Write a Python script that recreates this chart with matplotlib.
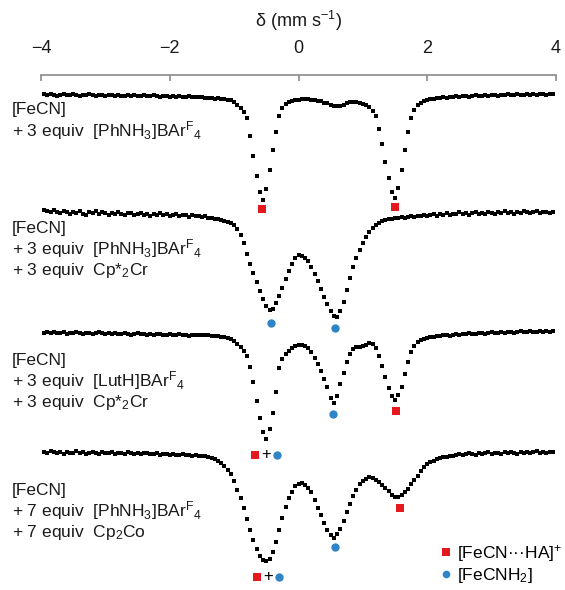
import matplotlib.pyplot as plt
from matplotlib.lines import Line2D
import numpy as np

plt.rcParams['font.family'] = ['Liberation Sans', 'DejaVu Sans']
plt.rcParams['mathtext.fontset'] = 'custom'
plt.rcParams['mathtext.rm'] = 'Liberation Sans'
plt.rcParams['mathtext.it'] = 'Liberation Sans:italic'
plt.rcParams['mathtext.bf'] = 'Liberation Sans:bold'

## velocity grid (mm/s), one channel every 0.05
velocity = np.round(np.linspace(-3.95, 3.95, 159), 2)

## absorption (arb. units, 0 = baseline, + = dip)
spec1 = [0, 1, 0, 1, 2, 1, 0, 1, 1, 0, 1, 2, 1, 1, 0, 1, 2, 1, 1, 2,
         1, 1, 2, 1, 2, 2, 1, 2, 1, 2, 2, 1, 2, 2, 1, 2, 3, 2, 2, 3,
         2, 3, 2, 3, 3, 2, 3, 3, 3,
         3, 4, 4, 4, 5, 4, 5, 5, 6, 6,
         8, 11, 14, 18, 24, 42, 62, 82, 98, 106, 95, 76, 56, 38, 22, 14, 10, 8, 7, 6,
         6, 5, 5, 5, 6, 6, 7, 7, 9, 9, 11, 12, 12, 12, 11, 9, 8, 8, 8, 9,
         10, 11, 13, 17, 22, 35, 50, 68, 84, 98, 104, 94, 76, 56, 38, 24, 16, 11, 9, 7, 6,
         5, 5, 4, 4, 3, 4, 3, 3, 2, 3, 2, 2, 3, 2, 1, 2, 2, 1, 2, 1,
         1, 2, 1, 1, 0, 1, 1, 0, 1, 1, 0, 1, 0, 1, 0, 0, 1, 0, 0]
spec2 = [-2, -1, 0, -2, 0, 1, -1, 0, 2, 0, 1, -1, 2, 3, 0, 1, -1, 2, 0, 1,
         3, 1, 2, 0, 2, 3, 1, 1, 3, 2, 1, 3, 2, 4, 2, 3, 1, 3, 2, 4,
         3, 2, 4, 3, 3, 5, 3, 4, 4,
         5, 4, 6, 6, 7, 7, 8, 9, 10, 11,
         13, 17, 23, 31, 42, 52, 61, 70, 79, 87, 94, 98, 97, 91, 84, 76, 67, 59, 52, 46,
         43, 44, 46, 49, 55, 62, 69, 77, 85, 92, 99, 104, 105, 99, 90, 78, 66, 55, 46, 38,
         31, 25, 20, 16, 13, 11, 9, 8, 7, 7, 6, 6, 5, 6, 5, 4, 5, 4, 4, 3, 4,
         3, 2, 4, 2, 3, 1, 3, 2, 2, 0, 2, 1, 3, 1, 0, 2, 1, 2, 0, 1,
         2, 0, 1, -1, 1, 0, 2, 0, 1, -1, 0, 1, 0, -1, 1, 0, 0, 1, 0]
spec3 = [1, 0, 1, 0, 1, 1, 0, 2, 1, 1, 0, 1, 2, 1, 1, 2, 1, 0, 1, 2,
         1, 2, 1, 2, 2, 1, 2, 3, 2, 1, 2, 2, 3, 2, 3, 2, 2, 3, 3, 2,
         3, 3, 2, 3, 3, 4, 3, 3, 3,
         3, 3, 3, 4, 4, 4, 5, 5, 6, 7,
         9, 12, 15, 19, 24, 35, 50, 69, 86, 100, 107, 97, 81, 60, 36, 27, 22, 19, 16, 14,
         13, 13, 14, 16, 20, 26, 32, 39, 47, 55, 66, 71, 64, 52, 41, 30, 22, 17, 15, 15,
         14, 13, 11, 12, 16, 24, 34, 45, 56, 64, 68, 63, 55, 42, 30, 20, 14, 10, 8, 7, 6,
         5, 5, 4, 4, 3, 3, 4, 3, 2, 3, 2, 2, 1, 2, 2, 1, 1, 2, 1, 0,
         1, 1, 0, 1, 0, 0, 1, 0, -1, 0, 0, -1, 0, 0, -1, 0, -1, 0, -1]
spec4 = [0, 1, -1, 0, 1, 0, 2, 0, 1, 1, -1, 1, 0, 2, 1, 0, 1, 2, 0, 1,
         1, 0, 2, 1, 1, 2, 0, 1, 2, 1, 2, 1, 1, 2, 2, 1, 3, 2, 2, 3,
         2, 3, 3, 2, 3, 3, 4, 3, 4,
         4, 4, 5, 6, 7, 9, 11, 14, 18, 22,
         29, 38, 46, 56, 67, 78, 88, 97, 104, 108, 109, 107, 100, 90, 78, 66, 55, 46, 40, 34,
         32, 31, 33, 36, 40, 48, 56, 63, 71, 78, 83, 86, 82, 77, 69, 60, 52, 44, 38, 32,
         29, 27, 25, 26, 28, 30, 33, 36, 39, 43, 45, 45, 43, 40, 37, 32, 28, 24, 19, 15, 12,
         10, 9, 7, 6, 5, 5, 4, 4, 3, 2, 3, 2, 1, 2, 3, 1, 2, 1, 0, 2,
         1, 1, 2, 0, 1, 0, 1, 2, 0, 1, 0, 1, 0, -1, 1, 0, 1, 0, 0]
spectra = [spec1, spec2, spec3, spec4]

sample_labels = [
    ['[FeCN]', '+ 3 equiv  [PhNH$_3$]BAr$^\\mathrm{F}$$_4$'],
    ['[FeCN]', '+ 3 equiv  [PhNH$_3$]BAr$^\\mathrm{F}$$_4$', '+ 3 equiv  Cp*$_2$Cr'],
    ['[FeCN]', '+ 3 equiv  [LutH]BAr$^\\mathrm{F}$$_4$', '+ 3 equiv  Cp*$_2$Cr'],
    ['[FeCN]', '+ 7 equiv  [PhNH$_3$]BAr$^\\mathrm{F}$$_4$', '+ 7 equiv  Cp$_2$Co'],
]

## peak assignments
hbond_x = [-0.56, 1.50, 1.52, -0.68, 1.57, -0.64]   # [FeCN...HA]+
nh2_x = [-0.43, 0.57, 0.54, -0.33, 0.56, -0.31]     # [FeCNH2]
both_x = [-0.50, -0.47]                              # overlapping sites

red = '#e3191e'
blue = '#2f84c6'

fig = plt.figure(figsize=(5.65, 5.9), dpi=100)
ax = fig.add_axes([41 / 565, 0, 515 / 565, 515 / 590])

offsets = [19, 137, 257, 377]
for spec, off in zip(spectra, offsets):
    ax.plot(velocity, -(off + np.array(spec)), 's', color='black', ms=3.2, mew=0)

hbond_y = [134, 132, 336, 380, 433, 502]
nh2_y = [248, 253, 339, 380, 472, 502]
ax.plot(hbond_x, -np.array(hbond_y), 's', color=red, ms=6, mew=0)
ax.plot(nh2_x, -np.array(nh2_y), 'o', color=blue, ms=6, mew=0)
for bx, by in zip(both_x, [380, 502]):
    ax.text(bx, -by, '+', ha='center', va='center', fontsize=12, color='black')

## sample descriptions on the left
label_top = [110, 228, 360, 490]
for lines, top in zip(sample_labels, label_top):
    for i, txt in enumerate(lines):
        fig.text(12 / 565, 1 - (top + 21 * i) / 590, txt, fontsize=12.5,
                 va='center', ha='left', color='#1a1a1a')

## axis on top only
ax.set_xlim(-4, 4)
ax.set_ylim(-515, 0)
for s in ['bottom', 'left', 'right']:
    ax.spines[s].set_visible(False)
ax.spines['top'].set_color('#8a8a8a')
ax.spines['top'].set_linewidth(1.2)
ax.xaxis.tick_top()
ax.xaxis.set_label_position('top')
ax.set_xticks([-4, -2, 0, 2, 4])
ax.tick_params(axis='x', direction='in', length=4, width=1.2, color='#8a8a8a',
               labelsize=13, pad=13, labelcolor='#1a1a1a')
ax.set_yticks([])
ax.set_xlabel('δ (mm s$^{-1}$)', fontsize=13, labelpad=9, color='#1a1a1a')

handles = [Line2D([], [], marker='s', ls='', color=red, ms=6, mew=0),
           Line2D([], [], marker='o', ls='', color=blue, ms=5.5, mew=0)]
fig.legend(handles, ['[FeCN\u00b7\u00b7\u00b7HA]$^{+}$', '[FeCNH$_2$]'],
           loc='lower right', bbox_to_anchor=(1.005, 0.0), frameon=False,
           fontsize=12.5, handlelength=0.7, handletextpad=0.3,
           labelspacing=0.1, borderpad=0.2, borderaxespad=0.1)

plt.savefig('out.png', dpi=100)
